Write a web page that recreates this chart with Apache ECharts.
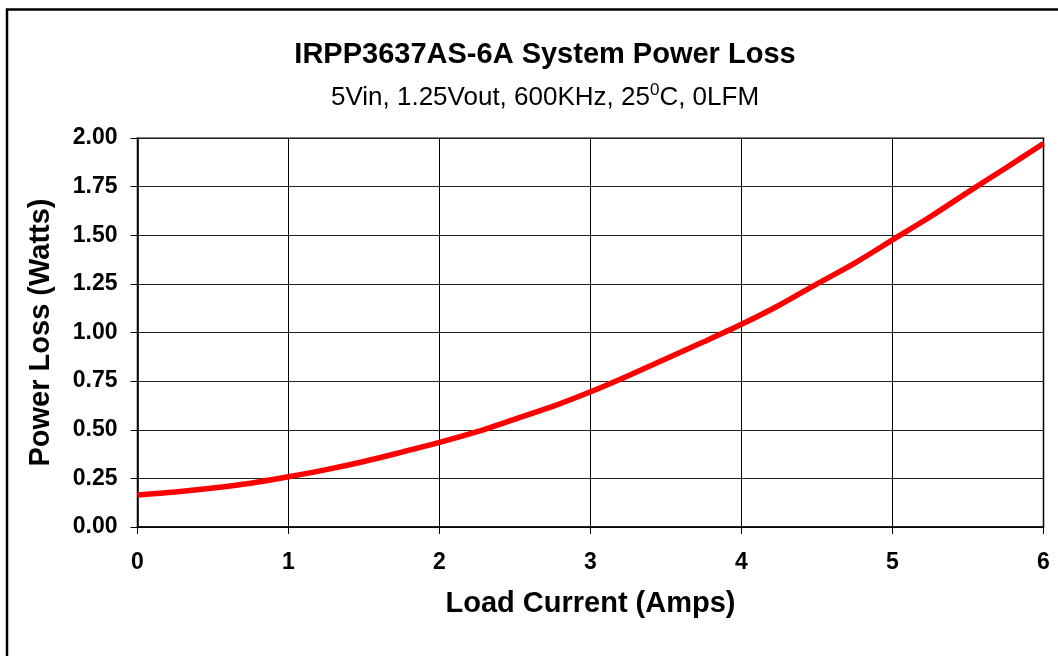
<!DOCTYPE html>
<html>
<head>
<meta charset="utf-8">
<script src="https://cdn.jsdelivr.net/npm/echarts@6/dist/echarts.min.js"></script>
<style>html,body{margin:0;padding:0;background:#fff;}#c{width:1058px;height:656px;}</style>
</head>
<body>
<div id="c"></div>
<script>
var loadCurrent = [0, 0.25, 0.5, 0.75, 1.0, 1.25, 1.5, 1.75, 2.0, 2.25, 2.5, 2.75, 3.0, 3.25, 3.5, 3.75, 4.0, 4.25, 4.5, 4.75, 5.0, 5.25, 5.5, 5.75, 6.0];
var powerLoss = [0.165, 0.180, 0.200, 0.225, 0.258, 0.295, 0.337, 0.385, 0.435, 0.490, 0.555, 0.620, 0.695, 0.778, 0.865, 0.952, 1.042, 1.140, 1.250, 1.357, 1.476, 1.595, 1.722, 1.846, 1.972];
var titleText = 'IRPP3637AS-6A System Power Loss';
var subText = '5Vin, 1.25Vout, 600KHz, 25{sup|0}C, 0LFM';
var xName = 'Load Current (Amps)';
var yName = 'Power Loss (Watts)';

var data = loadCurrent.map(function (x, i) { return [x, powerLoss[i]]; });
var chart = echarts.init(document.getElementById('c'), null, {renderer: 'canvas'});
var font = 'Liberation Sans, Arial, sans-serif';
chart.setOption({
  animation: false,
  backgroundColor: '#fff',
  title: [{
    text: titleText,
    left: 540, top: 35, textAlign: 'center',
    textStyle: {fontFamily: font, fontSize: 29, fontWeight: 'bold', color: '#000'}
  }, {
    text: subText,
    left: 540, top: 77, textAlign: 'center',
    textStyle: {
      fontFamily: font, fontSize: 26, fontWeight: 'normal', color: '#000',
      rich: {sup: {fontFamily: font, fontSize: 17, color: '#000', padding: [0, 0, 14, 0]}}
    }
  }],
  graphic: [{
    type: 'rect', silent: true,
    shape: {x: 7, y: 9.5, width: 1100, height: 700},
    style: {fill: 'none', stroke: '#000', lineWidth: 2.5}
  }],
  grid: {
    left: 137.5, top: 138, right: 14.5, bottom: 129,
    show: true, borderColor: '#808080', borderWidth: 2, backgroundColor: '#fff'
  },
  xAxis: {
    type: 'value', min: 0, max: 6, interval: 1,
    name: xName, nameLocation: 'middle', nameGap: 62,
    nameTextStyle: {fontFamily: font, fontSize: 29, fontWeight: 'bold', color: '#000'},
    axisLine: {show: true, lineStyle: {color: '#000', width: 1.5}},
    axisTick: {show: true, length: 7, lineStyle: {color: '#000'}},
    axisLabel: {fontFamily: font, fontSize: 23, fontWeight: 'bold', color: '#000', margin: 24},
    splitLine: {show: true, lineStyle: {color: '#000', width: 1}}
  },
  yAxis: {
    type: 'value', min: 0, max: 2, interval: 0.25,
    name: yName, nameLocation: 'middle', nameGap: 82,
    nameTextStyle: {fontFamily: font, fontSize: 29, fontWeight: 'bold', color: '#000'},
    axisLine: {show: true, lineStyle: {color: '#000', width: 1.5}},
    axisTick: {show: true, length: 7, lineStyle: {color: '#000'}},
    axisLabel: {fontFamily: font, fontSize: 23, fontWeight: 'bold', color: '#000', margin: 20,
      formatter: function (v) { return v.toFixed(2); }},
    splitLine: {show: true, lineStyle: {color: '#222', width: 1}}
  },
  series: [{
    type: 'line', data: data, showSymbol: false, smooth: 0.3,
    lineStyle: {color: '#ff0000', width: 5.5},
    clip: false
  }]
});
</script>
</body>
</html>
